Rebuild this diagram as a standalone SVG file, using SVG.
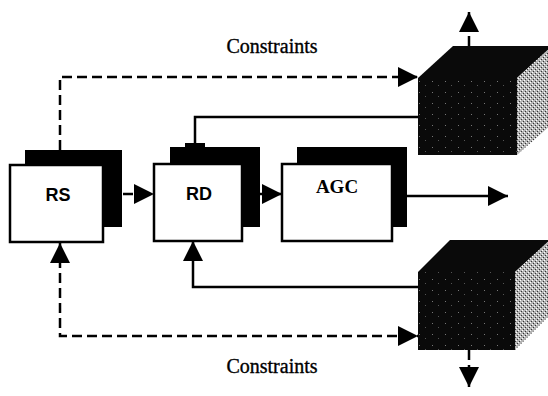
<svg xmlns="http://www.w3.org/2000/svg" width="548" height="396" viewBox="0 0 548 396">
<style>
.front{fill:#fff;stroke:#000;stroke-width:2.5}
.shadow{fill:#000}
.lbl{font-family:"Liberation Sans",Arial,sans-serif;font-weight:bold;font-size:18px;text-anchor:middle;fill:#000}
.lbls{font-family:"Liberation Serif","Times New Roman",serif;font-size:20px;text-anchor:middle;fill:#000;stroke:#000;stroke-width:0.35}
.agc{font-family:"Liberation Serif","Times New Roman",serif;font-weight:bold;font-size:19px;text-anchor:middle;fill:#000}
.c{fill:none;stroke:#000;stroke-width:2.5}
.d{stroke-dasharray:10 5}
.cf{fill:#0a0a0a}
</style>
<defs>
<marker id="ah" markerUnits="userSpaceOnUse" markerWidth="20" markerHeight="20" refX="20" refY="10" orient="auto-start-reverse" viewBox="0 0 20 20">
<path d="M0,0 L20,10 L0,20 Z" fill="#000"/>
</marker>
<pattern id="dither" width="4" height="4" patternUnits="userSpaceOnUse">
<rect width="4" height="4" fill="#b4b4b4"/>
<rect x="0" y="0" width="1" height="1" fill="#fff"/>
<rect x="2" y="2" width="1" height="1" fill="#fff"/>
<rect x="1" y="3" width="1" height="1" fill="#333"/>
<rect x="3" y="1" width="1" height="1" fill="#333"/>
</pattern>
<pattern id="speck" width="13" height="11" patternUnits="userSpaceOnUse">
<rect width="13" height="11" fill="#0a0a0a"/>
<rect x="3" y="4" width="1" height="1" fill="#777"/>
<rect x="9" y="8" width="1" height="1" fill="#555"/>
</pattern>
</defs>

<g id="connectors">
<path class="c d" d="M60,150 V77 H418" marker-end="url(#ah)"/>
<path class="c" d="M418,117 H195 V144"/>
<rect x="185" y="143" width="20" height="5" fill="#000"/>
<path class="c d" d="M469,46 V12" marker-end="url(#ah)"/>
<path class="c d" d="M123,194 H154" marker-end="url(#ah)"/>
<path class="c" d="M258,194 H282" marker-end="url(#ah)"/>
<path class="c" d="M407,196 H508" marker-end="url(#ah)"/>
<path class="c" d="M418,287 H193 V241" marker-end="url(#ah)"/>
<path class="c d" d="M60,243 V336 H418" marker-start="url(#ah)" marker-end="url(#ah)"/>
<path class="c d" d="M469,350 V387" marker-end="url(#ah)"/>
</g>

<g id="RS">
<rect class="shadow" x="25" y="150" width="97" height="77"/>
<rect class="front" x="10" y="165" width="93" height="77"/>
<text class="lbl" x="58" y="201">RS</text>
</g>

<g id="RD">
<rect class="shadow" x="170" y="147" width="90" height="80"/>
<rect class="front" x="154" y="164" width="88" height="77"/>
<text class="lbl" x="199" y="200">RD</text>
</g>

<g id="AGC">
<rect class="shadow" x="297" y="147" width="110" height="80"/>
<rect class="front" x="282" y="164" width="110" height="77"/>
<text class="agc" x="337" y="193">AGC</text>
</g>

<g id="cube-top">
<polygon class="cf" points="418,78 453,46 552,46 517,78"/>
<polygon fill="url(#dither)" points="517,78 552,46 552,124 517,155"/>
<rect x="418" y="78" width="99" height="77" fill="url(#speck)"/>
</g>

<g id="cube-bottom">
<polygon class="cf" points="418,272 450,240 550,240 515,272"/>
<polygon fill="url(#dither)" points="515,272 550,240 550,315 515,350"/>
<rect x="418" y="272" width="97" height="78" fill="url(#speck)"/>
</g>

<text class="lbls" x="272" y="53">Constraints</text>
<text class="lbls" x="272" y="373">Constraints</text>
</svg>
